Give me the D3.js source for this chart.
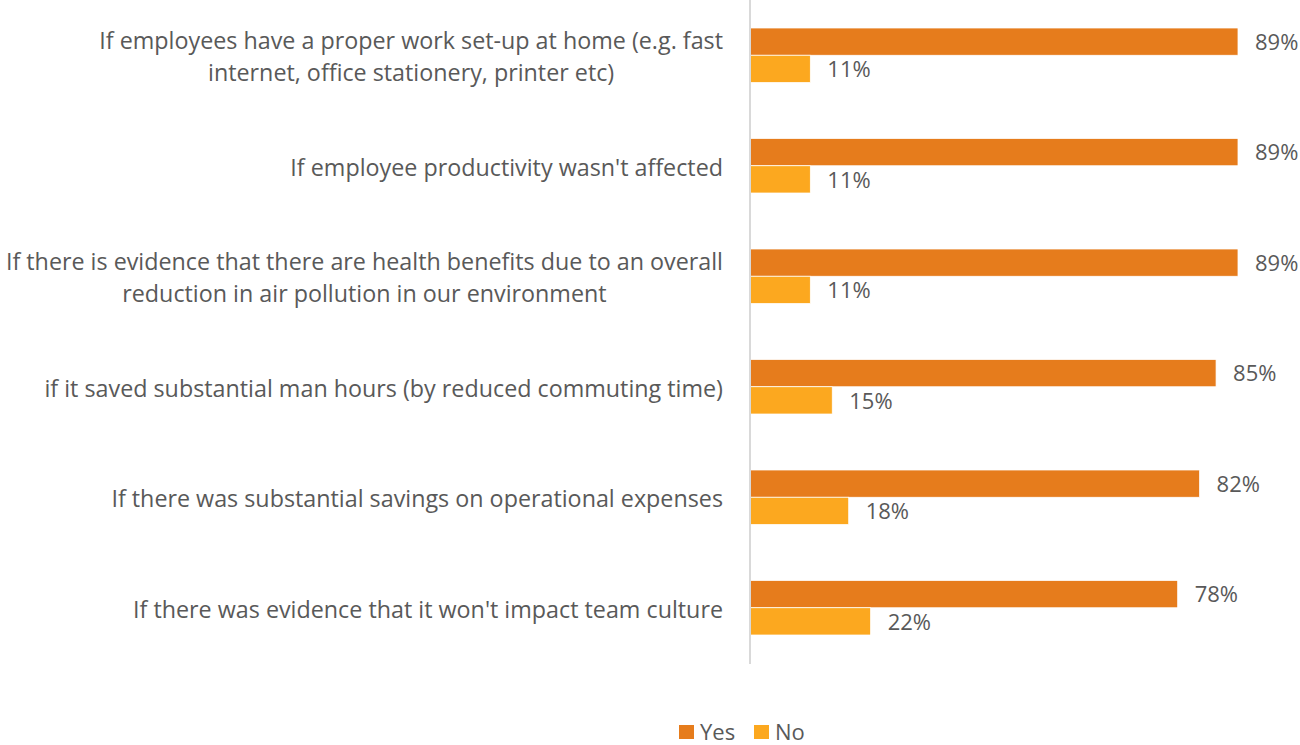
<!DOCTYPE html>
<html>
<head>
<meta charset="utf-8">
<script src="https://cdn.jsdelivr.net/npm/d3@7"></script>
<style>
  html, body { margin: 0; padding: 0; background: #fff; }
  svg { display: block; font-family: "Open Sans", sans-serif; }
</style>
</head>
<body>
<svg id="chart" width="1300" height="745"></svg>
<script>
const categories = [
  "If employees have a proper work set-up at home (e.g. fast\ninternet, office stationery, printer etc)",
  "If employee productivity wasn't affected",
  "If there is evidence that there are health benefits due to an overall\nreduction in air pollution in our environment",
  "if it saved substantial man hours (by reduced commuting time)",
  "If there was substantial savings on operational expenses",
  "If there was evidence that it won't impact team culture"
];
const seriesNames = ["Yes", "No"];
const yesValues = [0.89, 0.89, 0.89, 0.85, 0.82, 0.78];
const noValues  = [0.11, 0.11, 0.11, 0.15, 0.18, 0.22];
const colors = ["#E67C1C", "#FCA81F"];

const svg = d3.select("#chart");
const axisX = 750;
const x = d3.scaleLinear().domain([0, 1]).range([axisX, axisX + 548.3]);
const y = d3.scaleBand().domain(categories).range([0, 663]).paddingInner(0).paddingOuter(0);
const bandPad = 28;
const sub = d3.scaleBand().domain(seriesNames)
  .range([0, y.bandwidth() - 2 * bandPad]);

const seriesValues = [yesValues, noValues];
const fmt = d3.format(".0%");
const textColor = "#595959";

// bars
seriesNames.forEach((s, si) => {
  const g = svg.append("g");
  g.selectAll("rect").data(categories).join("rect")
    .attr("x", x(0))
    .attr("y", (c) => y(c) + bandPad + sub(s))
    .attr("width", (c, i) => x(seriesValues[si][i]) - x(0))
    .attr("height", sub.bandwidth())
    .attr("fill", colors[si])
    .attr("stroke", "#fff")
    .attr("stroke-width", 0.75);
  g.selectAll("text").data(categories).join("text")
    .attr("x", (c, i) => x(seriesValues[si][i]) + 17)
    .attr("y", (c) => y(c) + bandPad + sub(s) + sub.bandwidth() / 2)
    .attr("dy", "0.38em")
    .attr("fill", textColor)
    .attr("font-size", 22)
    .text((c, i) => fmt(seriesValues[si][i]));
});

// axis line
svg.append("line")
  .attr("x1", axisX).attr("x2", axisX)
  .attr("y1", 0).attr("y2", 664)
  .attr("stroke", "#D9D9D9").attr("stroke-width", 2);

// category labels (block right-aligned, lines centred within block)
const lbl = svg.append("g");
const labelRight = 723;
categories.forEach((c) => {
  const lines = c.split("\n");
  const cy = y(c) + y.bandwidth() / 2;
  const lh = 32.5;
  const t = lbl.append("text")
    .attr("text-anchor", "middle")
    .attr("fill", textColor)
    .attr("font-size", 23.3);
  const spans = lines.map((ln, i) => t.append("tspan")
      .attr("y", cy + (i - (lines.length - 1) / 2) * lh)
      .attr("dy", "0.42em")
      .text(ln));
  const maxW = d3.max(spans, (sp) => sp.node().getComputedTextLength());
  spans.forEach((sp) => sp.attr("x", labelRight - maxW / 2));
});

// legend
const leg = svg.append("g");
const legX = [679, 754];
seriesNames.forEach((s, i) => {
  leg.append("rect")
    .attr("x", legX[i]).attr("y", 725)
    .attr("width", 15).attr("height", 14)
    .attr("fill", colors[i]);
  leg.append("text")
    .attr("x", legX[i] + 21).attr("y", 732)
    .attr("dy", "0.38em")
    .attr("fill", textColor)
    .attr("font-size", 22)
    .text(s);
});
</script>
</body>
</html>
